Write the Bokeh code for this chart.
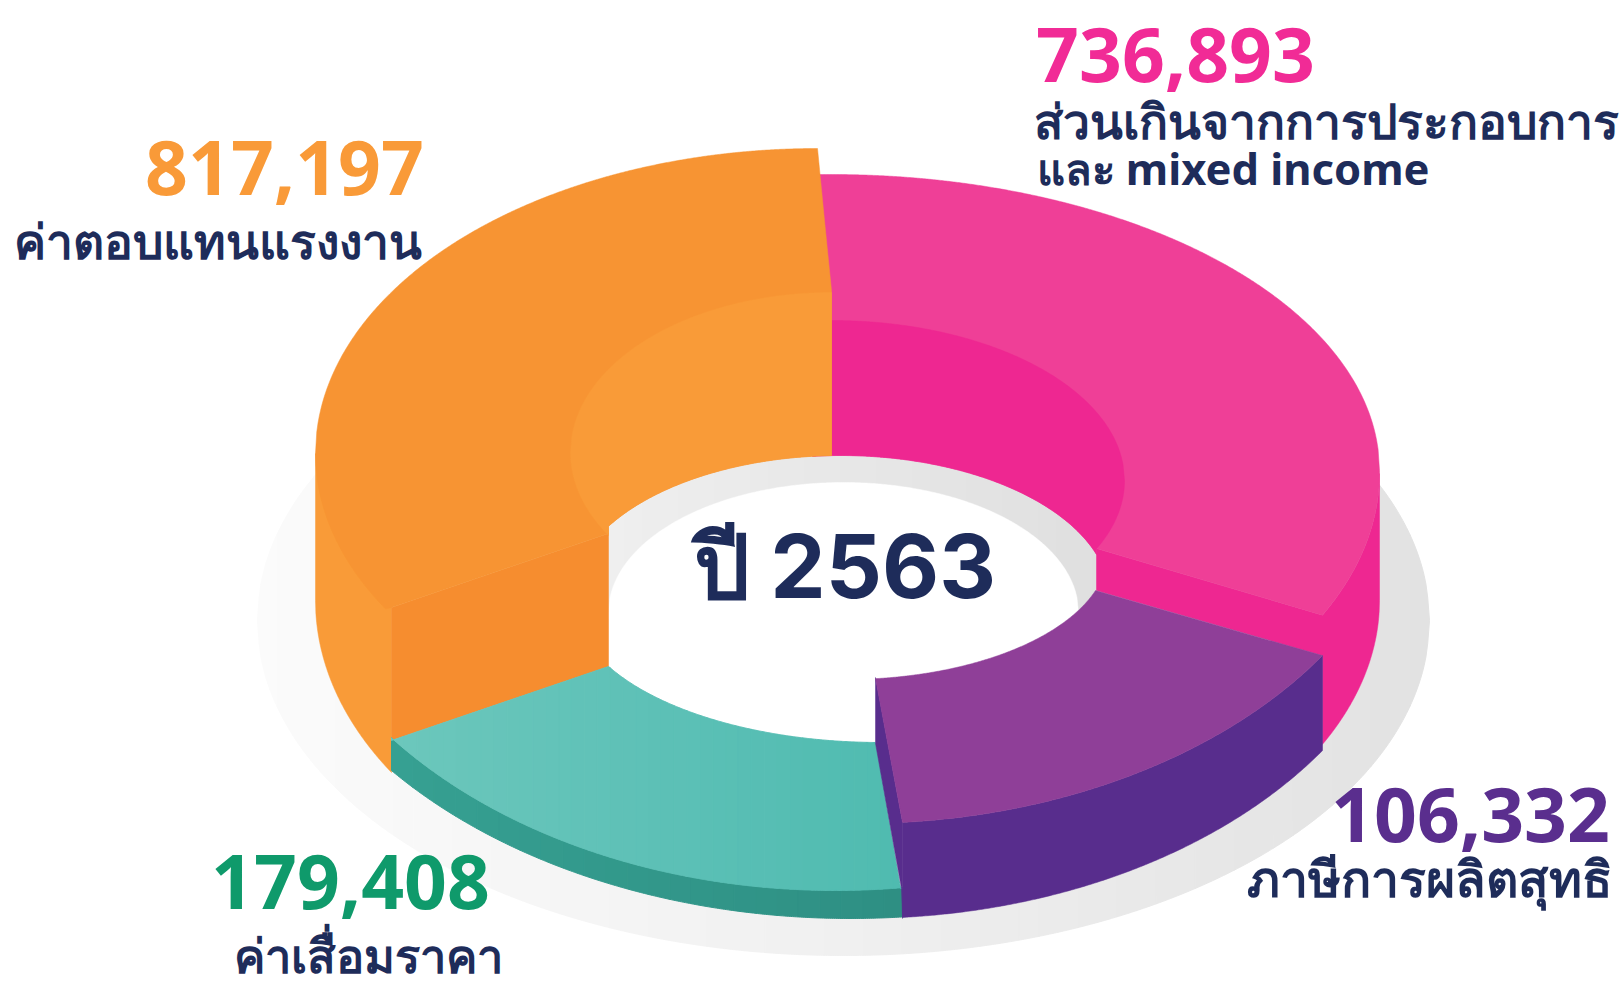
import numpy as np
from bokeh.plotting import figure
from bokeh.models import ColumnDataSource, Range1d
from bokeh.core.properties import value
from bokeh.embed import file_html
from bokeh.resources import INLINE

# ---- data
year_label = "ปี 2563"
values = [817197, 736893, 106332, 179408]
labels = [["ค่าตอบแทนแรงงาน"], ["ส่วนเกินจากการประกอบการ", "และ mixed income"], ["ภาษีการผลิตสุทธิ"], ["ค่าเสื่อมราคา"]]
value_colors = ["#F99A38", "#F12B96", "#5A2E8E", "#0F9A6B"]
NAVY = "#1E2C5A"

# ---- drawing geometry of the isometric ring (ellipse: cx, cy, rx, ry)
E_OR_OUT = (817, 453, 502, 305)
E_OR_IN = (831, 452, 261, 160)
E_OR_WALL = (830, 600, 515, 329)
E_PK_OUT = (831, 470, 548, 296)
E_PK_LOW = (831, 473, 548, 319)
E_PK_IN = (831, 480, 293, 160)
E_PK_WALL = (831, 600, 548, 324)
E_HOLE = (840, 600, 270, 145)
E_WHITE = (843, 612, 235, 130)
E_TL_HOLE = (880, 600, 307, 142)
E_TL_OUT = (835, 490, 565, 400)
E_TL_WALL = (850, 520, 590, 398)
E_PU_HOLE = (845, 550, 263, 129)
E_PU_OUT = (860, 435, 561, 388)
E_PU_WALL = (860, 530, 561, 388)
E_SHADOW = (843, 620, 586, 335)


def arc(e, x0, x1, lower, n=200):
    cx, cy, rx, ry = e
    xs = np.linspace(x0, x1, n)
    t = np.clip((xs - cx) / rx, -1, 1)
    ys = cy + (1 if lower else -1) * ry * np.sqrt(1 - t * t)
    return list(zip(xs.tolist(), ys.tolist()))


def mix(stops, f):
    pos = [s[0] for s in stops]
    rgb = [[int(s[1][i:i + 2], 16) for i in (1, 3, 5)] for s in stops]
    c = [int(round(np.interp(f, pos, [r[k] for r in rgb]))) for k in range(3)]
    return "#%02X%02X%02X" % tuple(c)


p = figure(width=1622, height=986, x_range=Range1d(0, 1622), y_range=Range1d(986, 0),
           output_backend="svg", toolbar_location=None, min_border=0)
p.axis.visible = False
p.grid.visible = False
p.outline_line_color = None
p.background_fill_color = "#FFFFFF"
p.border_fill_color = "#FFFFFF"


def shape(pts, color):
    xs, ys = zip(*pts)
    p.patch(list(xs), list(ys), fill_color=color, line_color=color, line_width=0.5)


def strips(top, bottom, stops, n=30):
    tx, ty = map(np.array, zip(*top))
    bx, by = map(np.array, zip(*bottom))
    x0, x1 = max(tx.min(), bx.min()), min(tx.max(), bx.max())
    edges = np.linspace(x0, x1, n + 1)
    XS, YS, CS = [], [], []
    for i in range(n):
        gx = np.linspace(edges[i], edges[i + 1], 12)
        yt = np.interp(gx, tx, ty)
        yb = np.interp(gx, bx, by)
        XS.append(gx.tolist() + gx[::-1].tolist())
        YS.append(yt.tolist() + yb[::-1].tolist())
        CS.append(mix(stops, (i + 0.5) / n))
    src = ColumnDataSource(dict(x=XS, y=YS, c=CS))
    p.patches("x", "y", source=src, fill_color="c", line_color="c", line_width=1)


# shadow
sx0, sx1 = E_SHADOW[0] - E_SHADOW[2], E_SHADOW[0] + E_SHADOW[2]
strips(arc(E_SHADOW, sx0, sx1, False, 500), arc(E_SHADOW, sx0, sx1, True, 500),
       [(0, "#FBFBFB"), (0.5, "#F0F0F0"), (1, "#E2E2E2")], 60)

# hole
hx0, hx1 = E_HOLE[0] - E_HOLE[2], E_HOLE[0] + E_HOLE[2]
strips(arc(E_HOLE, hx0, hx1, False, 300), arc(E_HOLE, hx0, hx1, True, 300),
       [(0, "#F0F0F0"), (1, "#DFDFDF")], 30)
wx0, wx1 = E_WHITE[0] - E_WHITE[2], E_WHITE[0] + E_WHITE[2]
shape(arc(E_WHITE, wx0, wx1, False, 300) + arc(E_WHITE, wx1, wx0, True, 300), "#FFFFFF")
shape([(608, 612)] + arc(E_TL_HOLE, 608, 875, True) + [(875, 612)], "#FFFFFF")

# pink wall + cut face + top
shape([(1096, 548)] + arc(E_PK_LOW, 1322, 1379, True) + [(1379, 600)]
      + arc(E_PK_WALL, 1379, 1322, True) + [(1322, 655), (1096, 590)], "#EE2791")
shape(arc(E_PK_OUT, 812, 1379, False, 400) + arc(E_PK_LOW, 1379, 1322, True) + [(1096, 548)]
      + arc(E_HOLE, 1096, 812, False), "#EF3F97")
shape(arc(E_PK_IN, 812, 1124, False) + arc(E_PK_IN, 1124, 1096, True) + arc(E_HOLE, 1096, 812, False), "#EE2791")

# orange wall + cut face + top
shape([(315, 453), (315, 600)] + arc(E_OR_WALL, 315, 391, True) + [(391, 600)], "#F99B38")
shape([(391, 607), (608, 533), (608, 666), (391, 740)], "#F68D2F")
shape(arc(E_OR_OUT, 817, 315, False, 400) + arc(E_OR_OUT, 315, 385, True) + [(391, 607), (608, 533)]
      + arc(E_HOLE, 608, 831, False) + [(831, 290), (824, 220)], "#F79433")
shape(arc(E_OR_IN, 831, 570, False) + arc(E_OR_IN, 570, 608, True) + arc(E_HOLE, 608, 831, False), "#F99B38")

# teal wall + top
teal_out = arc(E_TL_OUT, 391, 905, True, 300)
strips(teal_out, arc(E_TL_WALL, 391, 905, True, 300), [(0, "#36A092"), (1, "#2E8F83")], 24)
strips([(391, 740), (608, 666)] + arc(E_TL_HOLE, 608.5, 875, True) + [(900, 888), (905, 888)], teal_out,
       [(0, "#6CC7BC"), (0.55, "#5CC0B6"), (1, "#4FBBB0")], 40)

# purple wall + sliver + top
shape(arc(E_PU_OUT, 1322, 902, True) + arc(E_PU_WALL, 902, 1322, True), "#582D8D")
shape([(875, 677), (875, 743), (901, 888), (902, 918), (902, 822)], "#582D8D")
shape(arc(E_PU_HOLE, 875, 1095, True) + arc(E_PU_OUT, 1322, 902, True), "#8F3F98")


# the page's svg text sits lower than its nominal baseline: move it up by this share of the size
def base(y, size):
    return [v - 0.41 * size for v in y]


LABEL_FONT = value("Noto Sans")
YEAR_FONT = value("Inter")
SZ_NUM, SZ_YEAR = 75, 88
num = ColumnDataSource(dict(
    x=[284, 1175, 1470, 350], y=base([198, 85, 845, 912], SZ_NUM),
    t=[f"{v:,}" for v in values], c=value_colors))
p.text("x", "y", text="t", source=num, text_color="c", text_font=LABEL_FONT, text_font_style="bold",
       text_font_size=f"{SZ_NUM}px", text_align="center", text_baseline="alphabetic")

cat_x = [13, 1033, 1036, 1246, 233]
cat_y = [260, 140, 185, 898, 974]
cat_t = [labels[0][0], labels[1][0], labels[1][1], labels[2][0], labels[3][0]]
cat_s = [48, 48, 43.5, 50, 47]
for cx_, cy_, ct_, size in zip(cat_x, cat_y, cat_t, cat_s):
    p.text([cx_], base([cy_], size), text=[ct_], text_color=NAVY,
           text_font=LABEL_FONT, text_font_style="bold", text_font_size=f"{size}px",
           text_align="left", text_baseline="alphabetic")

p.text([693], base([602], SZ_YEAR), text=[year_label], text_color=NAVY, text_font=YEAR_FONT, text_font_style="bold",
       text_font_size=f"{SZ_YEAR}px", text_align="left", text_baseline="alphabetic")

open("out.html", "w").write(file_html(p, INLINE))
